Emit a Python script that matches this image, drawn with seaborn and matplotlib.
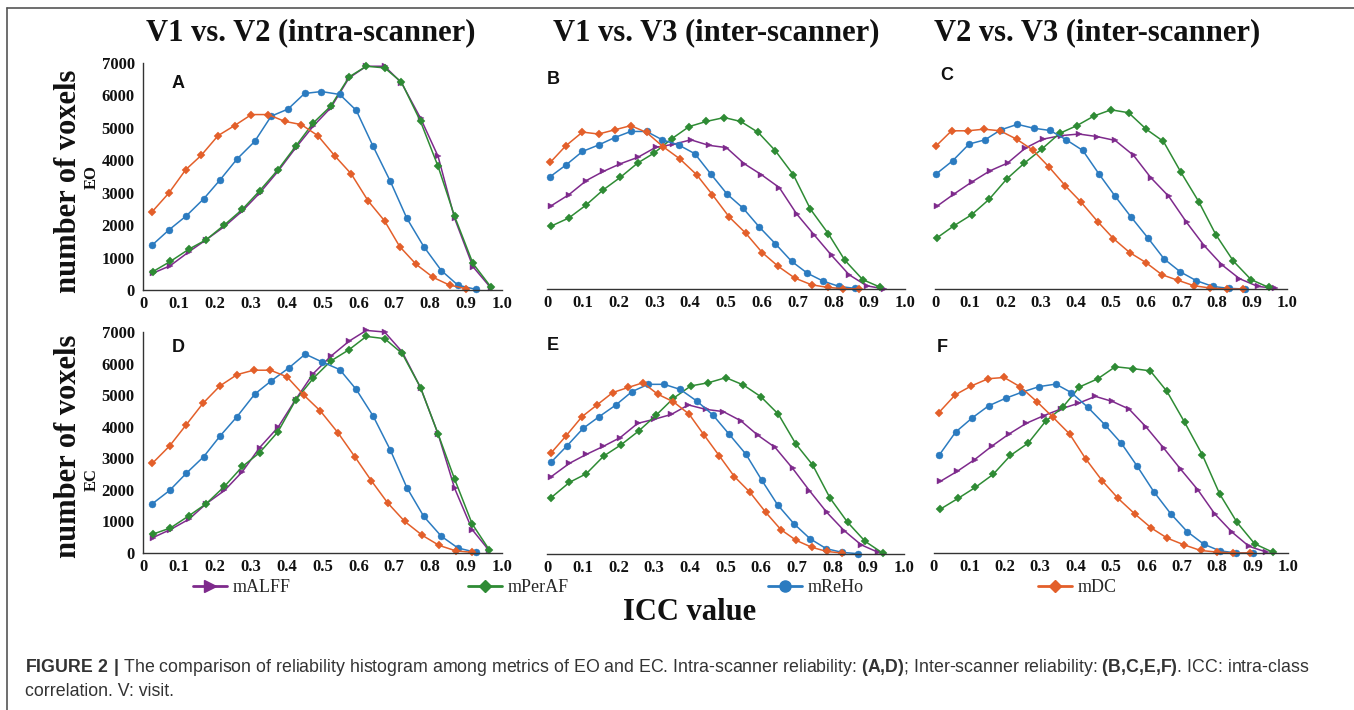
import numpy as np
import pandas as pd
import matplotlib
matplotlib.use("Agg")
import matplotlib.pyplot as plt
import seaborn as sns
from matplotlib.lines import Line2D

# ---------------- data ----------------
metrics = ["mALFF", "mPerAF", "mReHo", "mDC"]
panel_letters = ["A", "B", "C", "D", "E", "F"]
col_titles = ["V1 vs. V2 (intra-scanner)", "V1 vs. V3 (inter-scanner)", "V2 vs. V3 (inter-scanner)"]
row_labels = ["EO", "EC"]
x_ticks = [0, 0.1, 0.2, 0.3, 0.4, 0.5, 0.6, 0.7, 0.8, 0.9, 1.0]
x_tick_labels = ["0", "0.1", "0.2", "0.3", "0.4", "0.5", "0.6", "0.7", "0.8", "0.9", "1.0"]
y_ticks = [0, 1000, 2000, 3000, 4000, 5000, 6000, 7000]
y_tick_labels = ["0", "1000", "2000", "3000", "4000", "5000", "6000", "7000"]

# Panel A (EO, V1 vs V2)
A_mALFF_x = [0.028, 0.076, 0.128, 0.176, 0.227, 0.277, 0.325, 0.376, 0.425, 0.474, 0.523, 0.574, 0.622, 0.673, 0.720, 0.773, 0.822, 0.868, 0.919, 0.970]
A_mALFF_y = [520, 750, 1180, 1550, 1960, 2440, 2990, 3660, 4380, 5050, 5620, 6540, 6900, 6900, 6390, 5300, 4120, 2210, 720, 50]
A_mPerAF_x = [0.028, 0.076, 0.128, 0.176, 0.227, 0.277, 0.325, 0.376, 0.425, 0.474, 0.523, 0.574, 0.622, 0.673, 0.720, 0.773, 0.822, 0.868, 0.919, 0.970]
A_mPerAF_y = [570, 880, 1260, 1550, 2010, 2490, 3060, 3710, 4430, 5150, 5670, 6570, 6900, 6850, 6410, 5200, 3810, 2270, 820, 80]
A_mReHo_x = [0.026, 0.072, 0.121, 0.169, 0.215, 0.262, 0.311, 0.357, 0.404, 0.450, 0.497, 0.548, 0.594, 0.641, 0.689, 0.735, 0.782, 0.831, 0.877, 0.927]
A_mReHo_y = [1390, 1850, 2290, 2810, 3400, 4040, 4580, 5360, 5580, 6060, 6120, 6030, 5540, 4430, 3350, 2210, 1340, 600, 150, 20]
A_mDC_x = [0.026, 0.072, 0.119, 0.162, 0.209, 0.255, 0.302, 0.348, 0.395, 0.441, 0.487, 0.534, 0.580, 0.627, 0.673, 0.715, 0.761, 0.808, 0.854, 0.901]
A_mDC_y = [2420, 2990, 3710, 4150, 4760, 5070, 5410, 5410, 5200, 5100, 4760, 4140, 3580, 2750, 2130, 1340, 790, 390, 150, 40]

# Panel B (EO, V1 vs V3)
B_mALFF_x = [0.012, 0.061, 0.110, 0.157, 0.205, 0.254, 0.304, 0.352, 0.402, 0.452, 0.501, 0.551, 0.599, 0.649, 0.697, 0.746, 0.795, 0.844, 0.893, 0.942]
B_mALFF_y = [2580, 2920, 3360, 3640, 3880, 4080, 4390, 4480, 4620, 4450, 4380, 3880, 3540, 3140, 2330, 1680, 1040, 440, 100, 0]
B_mPerAF_x = [0.010, 0.061, 0.108, 0.157, 0.205, 0.253, 0.299, 0.348, 0.397, 0.445, 0.495, 0.541, 0.590, 0.638, 0.688, 0.736, 0.786, 0.832, 0.882, 0.930]
B_mPerAF_y = [1940, 2200, 2590, 3070, 3460, 3900, 4210, 4650, 5030, 5190, 5310, 5190, 4850, 4280, 3540, 2470, 1710, 890, 290, 60]
B_mReHo_x = [0.009, 0.054, 0.099, 0.144, 0.189, 0.234, 0.278, 0.322, 0.368, 0.413, 0.457, 0.503, 0.548, 0.593, 0.638, 0.683, 0.727, 0.772, 0.816, 0.860]
B_mReHo_y = [3480, 3850, 4260, 4460, 4690, 4880, 4880, 4620, 4460, 4190, 3570, 2940, 2500, 1920, 1400, 860, 490, 240, 80, 20]
B_mDC_x = [0.009, 0.052, 0.099, 0.144, 0.189, 0.234, 0.278, 0.324, 0.371, 0.418, 0.462, 0.509, 0.555, 0.601, 0.646, 0.692, 0.739, 0.784, 0.828, 0.872]
B_mDC_y = [3920, 4430, 4860, 4800, 4930, 5060, 4850, 4410, 4030, 3540, 2920, 2230, 1730, 1130, 700, 340, 130, 50, 10, 0]

# Panel C (EO, V2 vs V3)
C_mALFF_x = [0.005, 0.055, 0.104, 0.156, 0.206, 0.256, 0.306, 0.357, 0.409, 0.461, 0.512, 0.564, 0.613, 0.664, 0.715, 0.765, 0.815, 0.865, 0.917, 0.967]
C_mALFF_y = [2560, 2950, 3310, 3660, 3900, 4360, 4640, 4750, 4800, 4720, 4600, 4140, 3450, 2870, 2060, 1340, 750, 320, 80, 20]
C_mPerAF_x = [0.005, 0.054, 0.104, 0.154, 0.204, 0.254, 0.303, 0.354, 0.403, 0.452, 0.500, 0.550, 0.600, 0.649, 0.699, 0.749, 0.798, 0.848, 0.898, 0.948]
C_mPerAF_y = [1580, 1960, 2300, 2780, 3410, 3900, 4330, 4820, 5060, 5360, 5550, 5460, 4950, 4570, 3610, 2710, 1680, 860, 290, 50]
C_mReHo_x = [0.003, 0.050, 0.097, 0.142, 0.187, 0.234, 0.280, 0.327, 0.373, 0.420, 0.466, 0.512, 0.557, 0.605, 0.651, 0.697, 0.742, 0.789, 0.834, 0.882]
C_mReHo_y = [3560, 3970, 4490, 4620, 4930, 5100, 4980, 4910, 4620, 4290, 3560, 2870, 2230, 1580, 930, 530, 260, 80, 20, 0]
C_mDC_x = [0.003, 0.047, 0.093, 0.139, 0.185, 0.232, 0.277, 0.323, 0.370, 0.415, 0.462, 0.507, 0.553, 0.599, 0.645, 0.690, 0.736, 0.782, 0.829, 0.875]
C_mDC_y = [4430, 4900, 4900, 4950, 4900, 4640, 4310, 3790, 3200, 2690, 2090, 1560, 1130, 820, 440, 270, 100, 30, 0, 0]

# Panel D (EC, V1 vs V2)
D_mALFF_x = [0.028, 0.076, 0.128, 0.176, 0.227, 0.277, 0.325, 0.376, 0.425, 0.474, 0.523, 0.574, 0.622, 0.673, 0.722, 0.773, 0.822, 0.868, 0.917, 0.964]
D_mALFF_y = [490, 740, 1070, 1560, 1980, 2580, 3340, 3980, 4860, 5680, 6230, 6710, 7050, 7000, 6370, 5240, 3770, 2050, 740, 80]
D_mPerAF_x = [0.028, 0.076, 0.128, 0.176, 0.227, 0.277, 0.325, 0.376, 0.425, 0.474, 0.523, 0.574, 0.622, 0.673, 0.722, 0.773, 0.822, 0.868, 0.917, 0.964]
D_mPerAF_y = [600, 790, 1180, 1560, 2110, 2740, 3180, 3840, 4840, 5530, 6080, 6440, 6860, 6790, 6320, 5240, 3770, 2340, 920, 110]
D_mReHo_x = [0.026, 0.074, 0.121, 0.169, 0.215, 0.262, 0.311, 0.357, 0.406, 0.452, 0.499, 0.548, 0.594, 0.641, 0.689, 0.735, 0.782, 0.831, 0.877, 0.927]
D_mReHo_y = [1560, 1980, 2530, 3050, 3710, 4320, 5030, 5450, 5860, 6300, 6050, 5810, 5180, 4340, 3260, 2070, 1160, 530, 160, 20]
D_mDC_x = [0.026, 0.074, 0.121, 0.167, 0.214, 0.262, 0.308, 0.355, 0.401, 0.448, 0.494, 0.543, 0.590, 0.636, 0.682, 0.729, 0.778, 0.825, 0.871, 0.917]
D_mDC_y = [2840, 3390, 4070, 4740, 5290, 5650, 5790, 5790, 5580, 5000, 4500, 3810, 3050, 2290, 1580, 1000, 560, 240, 70, 20]

# Panel E (EC, V1 vs V3)
E_mALFF_x = [0.012, 0.063, 0.110, 0.157, 0.205, 0.254, 0.301, 0.348, 0.396, 0.445, 0.494, 0.543, 0.590, 0.639, 0.688, 0.735, 0.784, 0.832, 0.880, 0.928]
E_mALFF_y = [2440, 2860, 3140, 3390, 3670, 4120, 4250, 4400, 4700, 4560, 4490, 4200, 3750, 3360, 2700, 2000, 1310, 740, 290, 50]
E_mPerAF_x = [0.012, 0.063, 0.110, 0.159, 0.207, 0.257, 0.306, 0.354, 0.403, 0.452, 0.501, 0.550, 0.599, 0.648, 0.697, 0.744, 0.793, 0.842, 0.891, 0.940]
E_mPerAF_y = [1780, 2260, 2530, 3090, 3440, 3880, 4380, 4910, 5300, 5400, 5560, 5330, 4960, 4410, 3470, 2810, 1760, 1000, 400, 30]
E_mReHo_x = [0.011, 0.056, 0.101, 0.146, 0.193, 0.238, 0.283, 0.328, 0.373, 0.420, 0.465, 0.510, 0.557, 0.602, 0.646, 0.692, 0.737, 0.782, 0.827, 0.872]
E_mReHo_y = [2890, 3410, 3960, 4330, 4700, 5120, 5350, 5350, 5190, 4820, 4380, 3780, 3150, 2320, 1550, 950, 480, 170, 50, 10]
E_mDC_x = [0.011, 0.053, 0.098, 0.140, 0.184, 0.227, 0.269, 0.310, 0.354, 0.398, 0.440, 0.483, 0.525, 0.569, 0.613, 0.655, 0.698, 0.742, 0.784, 0.827]
E_mDC_y = [3180, 3720, 4330, 4700, 5090, 5250, 5400, 5040, 4800, 4410, 3750, 3090, 2440, 1940, 1310, 770, 430, 210, 80, 30]

# Panel F (EC, V2 vs V3)
F_mALFF_x = [0.018, 0.066, 0.115, 0.164, 0.212, 0.261, 0.310, 0.358, 0.407, 0.456, 0.504, 0.551, 0.600, 0.649, 0.697, 0.746, 0.793, 0.842, 0.890, 0.939]
F_mALFF_y = [2270, 2590, 2960, 3390, 3770, 4110, 4350, 4560, 4740, 4960, 4800, 4560, 3980, 3320, 2650, 1990, 1240, 660, 210, 30]
F_mPerAF_x = [0.018, 0.068, 0.117, 0.167, 0.216, 0.266, 0.315, 0.363, 0.411, 0.463, 0.512, 0.562, 0.611, 0.658, 0.708, 0.758, 0.807, 0.856, 0.906, 0.958]
F_mPerAF_y = [1390, 1730, 2080, 2490, 3090, 3480, 4170, 4610, 5260, 5520, 5900, 5840, 5770, 5120, 4140, 3110, 1870, 970, 290, 20]
F_mReHo_x = [0.014, 0.061, 0.108, 0.154, 0.202, 0.250, 0.297, 0.344, 0.388, 0.435, 0.482, 0.529, 0.574, 0.621, 0.669, 0.715, 0.762, 0.807, 0.854, 0.901]
F_mReHo_y = [3090, 3830, 4280, 4660, 4900, 5100, 5270, 5350, 5080, 4610, 4070, 3480, 2750, 1940, 1240, 680, 280, 70, 0, 0]
F_mDC_x = [0.014, 0.060, 0.105, 0.153, 0.198, 0.244, 0.291, 0.336, 0.383, 0.428, 0.475, 0.520, 0.567, 0.614, 0.659, 0.706, 0.753, 0.799, 0.845, 0.892]
F_mDC_y = [4450, 5010, 5290, 5520, 5560, 5260, 4790, 4300, 3770, 2990, 2290, 1730, 1240, 790, 470, 260, 80, 30, 0, 0]

caption_line1 = (r"$\mathbf{FIGURE\ 2\ |}$ The comparison of reliability histogram among metrics of EO and EC. "
                 r"Intra-scanner reliability: $\mathbf{(A{,}D)}$; Inter-scanner reliability: "
                 r"$\mathbf{(B{,}C{,}E{,}F)}$. ICC: intra-class")
caption_line2 = "correlation. V: visit."

# ---------------- build long table ----------------
series = {
    "A": [A_mALFF_x, A_mALFF_y, A_mPerAF_x, A_mPerAF_y, A_mReHo_x, A_mReHo_y, A_mDC_x, A_mDC_y],
    "B": [B_mALFF_x, B_mALFF_y, B_mPerAF_x, B_mPerAF_y, B_mReHo_x, B_mReHo_y, B_mDC_x, B_mDC_y],
    "C": [C_mALFF_x, C_mALFF_y, C_mPerAF_x, C_mPerAF_y, C_mReHo_x, C_mReHo_y, C_mDC_x, C_mDC_y],
    "D": [D_mALFF_x, D_mALFF_y, D_mPerAF_x, D_mPerAF_y, D_mReHo_x, D_mReHo_y, D_mDC_x, D_mDC_y],
    "E": [E_mALFF_x, E_mALFF_y, E_mPerAF_x, E_mPerAF_y, E_mReHo_x, E_mReHo_y, E_mDC_x, E_mDC_y],
    "F": [F_mALFF_x, F_mALFF_y, F_mPerAF_x, F_mPerAF_y, F_mReHo_x, F_mReHo_y, F_mDC_x, F_mDC_y],
}
rows = []
for p, lists in series.items():
    for i, m in enumerate(metrics):
        for xv, yv in zip(lists[2 * i], lists[2 * i + 1]):
            rows.append({"panel": p, "metric": m, "icc": xv, "voxels": yv})
df = pd.DataFrame(rows)

# ---------------- style ----------------
sns.set_theme(style="white")
plt.rcParams["font.family"] = ["Liberation Serif", "DejaVu Serif"]
plt.rcParams["mathtext.fontset"] = "custom"
plt.rcParams["mathtext.rm"] = "Liberation Sans"
plt.rcParams["mathtext.bf"] = "Liberation Sans:bold"

colors = {"mALFF": "#7E2A8C", "mPerAF": "#2E8B34", "mReHo": "#2B7BC0", "mDC": "#E35F2A"}
markers = {"mALFF": ">", "mPerAF": "D", "mReHo": "o", "mDC": "D"}
msizes = {"mALFF": 5.0, "mPerAF": 4.0, "mReHo": 5.0, "mDC": 4.0}

W, H = 1354, 710
fig = plt.figure(figsize=(W / 100, H / 100), dpi=100)
fig.patch.set_facecolor("white")

def fx(x):
    return x / W

def fy(y):
    return 1 - y / H

def rect(x0, x1, ytop, ybot):
    return [fx(x0), fy(ybot), (x1 - x0) / W, (ybot - ytop) / H]

axes_px = {
    "A": (143, 502, 63, 290),
    "B": (547, 905, 63, 289),
    "C": (935, 1287, 63, 289),
    "D": (143, 502, 332, 553),
    "E": (547, 904, 332, 554),
    "F": (934, 1288, 332, 553),
}
letter_px = {"A": (178, 83), "B": (553, 79), "C": (947, 76),
             "D": (178, 347), "E": (553, 345), "F": (942, 347)}

spine_col = "#333333"
for p in panel_letters:
    ax = fig.add_axes(rect(*axes_px[p]))
    ax.set_facecolor("none")
    sub = df[df.panel == p]
    for m in metrics:
        d = sub[sub.metric == m]
        sns.lineplot(data=d, x="icc", y="voxels", ax=ax, color=colors[m],
                     marker=markers[m], markersize=msizes[m], markeredgewidth=0.3,
                     markeredgecolor=colors[m], linewidth=1.1, estimator=None,
                     sort=False, legend=False, clip_on=False)
    ax.set_xlim(0, 1.0)
    ax.set_ylim(0, 7000)
    ax.set_xlabel("")
    ax.set_ylabel("")
    ax.set_xticks(x_ticks)
    ax.set_xticklabels(x_tick_labels, fontsize=12, fontweight="bold")
    ax.tick_params(axis="x", direction="in", length=3, width=0.8, pad=4, colors=spine_col)
    for s in ["top", "right"]:
        ax.spines[s].set_visible(False)
    ax.spines["bottom"].set_color(spine_col)
    ax.spines["bottom"].set_linewidth(1.0)
    if p in ("A", "D"):
        ax.set_yticks(y_ticks)
        ax.set_yticklabels(y_tick_labels, fontsize=12, fontweight="bold")
        ax.tick_params(axis="y", direction="out", length=3, width=0.8, pad=3, colors=spine_col)
        ax.spines["left"].set_color(spine_col)
        ax.spines["left"].set_linewidth(1.0)
    else:
        ax.spines["left"].set_visible(False)
        ax.set_yticks([])
    for lab in ax.get_xticklabels() + ax.get_yticklabels():
        lab.set_color("#111111")
    lx, ly = letter_px[p]
    fig.text(fx(lx), fy(ly), p, family=["Liberation Sans", "DejaVu Sans"], fontweight="bold",
             fontsize=13, ha="center", va="center", color="#111111")

# column titles
for t, cx in zip(col_titles, [311, 716, 1097]):
    fig.text(fx(cx), fy(33), t, fontsize=22, fontweight="bold", ha="center", va="center", color="#111111")

# row labels
for lab, cy, ey in zip(row_labels, [181, 446], [177, 480]):
    fig.text(fx(68), fy(cy), "number of voxels", fontsize=22, fontweight="bold", rotation=90,
             ha="center", va="center", color="#111111")
    fig.text(fx(92), fy(ey), lab, fontsize=12, fontweight="bold", rotation=90,
             ha="center", va="center", color="#111111")

# legend (four separate entries spread along the bottom)
leg_pos = {"mALFF": 193, "mPerAF": 468, "mReHo": 768, "mDC": 1038}
for m in metrics:
    h = Line2D([], [], color=colors[m], marker=markers[m], markersize=msizes[m] * 1.6,
               linewidth=2.0, markeredgecolor=colors[m])
    fig.legend(handles=[h], labels=[m], loc="center left",
               bbox_to_anchor=(fx(leg_pos[m]), fy(588)), frameon=False,
               handlelength=1.9, handletextpad=0.3, borderpad=0, borderaxespad=0,
               prop={"family": "Liberation Serif", "size": 13})

fig.text(fx(690), fy(613), "ICC value", fontsize=22, fontweight="bold", ha="center", va="center",
         color="#111111")

# caption
cap_kw = dict(family="Liberation Sans", color="#333333", ha="left", va="center")
fig.text(fx(25), fy(668), caption_line1, fontsize=12.8, **cap_kw)
fig.text(fx(25), fy(692), caption_line2, fontsize=12.8, **cap_kw)

# frame lines (top and left)
fig.add_artist(Line2D([fx(7), 1], [fy(8), fy(8)], transform=fig.transFigure, color="#555555", lw=1.2))
fig.add_artist(Line2D([fx(7), fx(7)], [fy(8), 0], transform=fig.transFigure, color="#555555", lw=1.2))

fig.savefig("out.png", dpi=100, facecolor="white")
